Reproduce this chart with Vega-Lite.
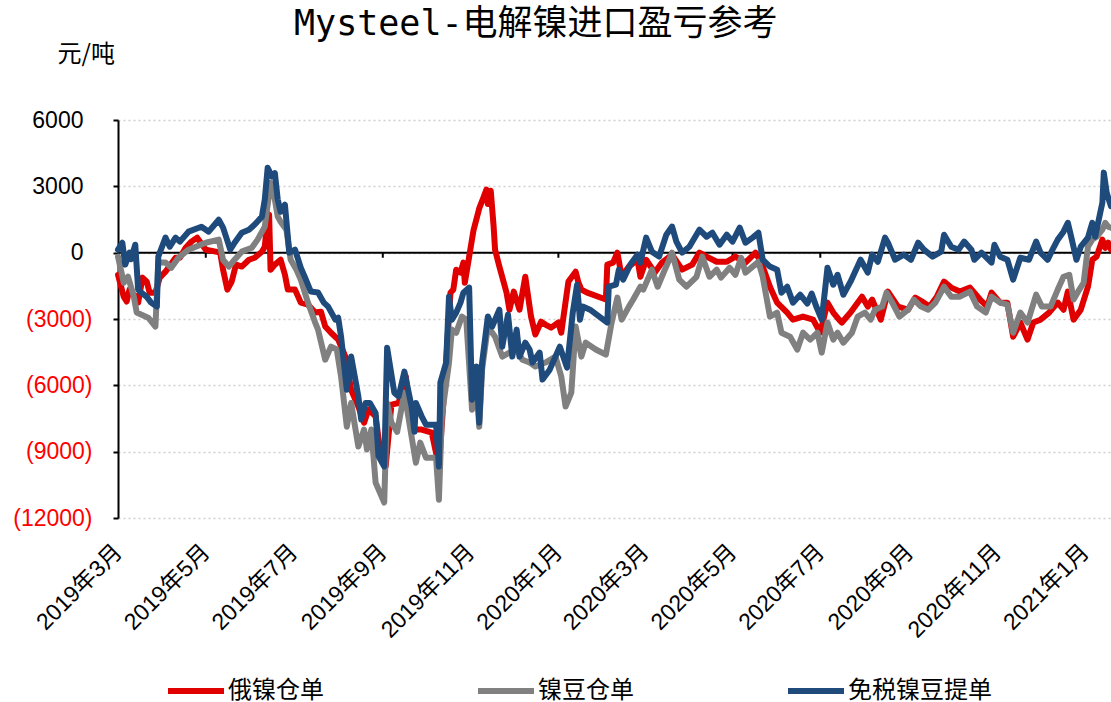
{
  "$schema": "https://vega.github.io/schema/vega-lite/v6.json",
  "width": 993,
  "height": 398,
  "autosize": {"type": "none"},
  "padding": {"left": 118, "top": 120, "right": 0, "bottom": 184},
  "background": "white",
  "config": {"view": {"stroke": null}, "font": "Liberation Sans, Noto Sans CJK SC"},
  "title": {
    "text": "Mysteel-电解镍进口盈亏参考",
    "font": "DejaVu Sans Mono, Noto Sans CJK SC",
    "fontSize": 35,
    "fontWeight": "normal",
    "color": "#000000",
    "anchor": "start",
    "frame": "group",
    "dx": 176,
    "baseline": "top",
    "offset": 0
  },
  "layer": [
    {
      "data": {"values": [{"zero": 0}]},
      "mark": {"type": "rule", "color": "#000000", "strokeWidth": 2},
      "encoding": {"y": {"field": "zero", "type": "quantitative"}}
    },
    {
      "data": {"values": [{"date": "2019-05-01"}, {"date": "2019-09-01"}, {"date": "2020-01-01"}, {"date": "2020-05-01"}, {"date": "2020-07-01"}, {"date": "2021-01-01"}]},
      "mark": {"type": "rule", "color": "#000000", "strokeWidth": 2},
      "encoding": {
        "x": {"field": "date", "type": "temporal"},
        "y": {"datum": 0, "type": "quantitative"},
        "y2": {"datum": -230}
      }
    },
    {
      "data": {"values": [
        {"series": "俄镍仓单", "date": "2019-03-01", "value": -1000},
        {"series": "俄镍仓单", "date": "2019-03-05", "value": -1990},
        {"series": "俄镍仓单", "date": "2019-03-07", "value": -2210},
        {"series": "俄镍仓单", "date": "2019-03-09", "value": -1670},
        {"series": "俄镍仓单", "date": "2019-03-13", "value": -1990},
        {"series": "俄镍仓单", "date": "2019-03-15", "value": -2260},
        {"series": "俄镍仓单", "date": "2019-03-18", "value": -1130},
        {"series": "俄镍仓单", "date": "2019-03-21", "value": -1310},
        {"series": "俄镍仓单", "date": "2019-03-23", "value": -1810},
        {"series": "俄镍仓单", "date": "2019-03-27", "value": -1810},
        {"series": "俄镍仓单", "date": "2019-03-30", "value": -1130},
        {"series": "俄镍仓单", "date": "2019-04-03", "value": -860},
        {"series": "俄镍仓单", "date": "2019-04-10", "value": -230},
        {"series": "俄镍仓单", "date": "2019-04-13", "value": -230},
        {"series": "俄镍仓单", "date": "2019-04-17", "value": 220},
        {"series": "俄镍仓单", "date": "2019-04-21", "value": 500},
        {"series": "俄镍仓单", "date": "2019-04-25", "value": 680},
        {"series": "俄镍仓单", "date": "2019-05-01", "value": 135},
        {"series": "俄镍仓单", "date": "2019-05-08", "value": 45},
        {"series": "俄镍仓单", "date": "2019-05-11", "value": 0},
        {"series": "俄镍仓单", "date": "2019-05-13", "value": -770},
        {"series": "俄镍仓单", "date": "2019-05-16", "value": -1670},
        {"series": "俄镍仓单", "date": "2019-05-19", "value": -1310},
        {"series": "俄镍仓单", "date": "2019-05-22", "value": -540},
        {"series": "俄镍仓单", "date": "2019-05-26", "value": -630},
        {"series": "俄镍仓单", "date": "2019-05-31", "value": -320},
        {"series": "俄镍仓单", "date": "2019-06-04", "value": -230},
        {"series": "俄镍仓单", "date": "2019-06-09", "value": 45},
        {"series": "俄镍仓单", "date": "2019-06-11", "value": 270},
        {"series": "俄镍仓单", "date": "2019-06-13", "value": 1630},
        {"series": "俄镍仓单", "date": "2019-06-14", "value": 1720},
        {"series": "俄镍仓单", "date": "2019-06-15", "value": -770},
        {"series": "俄镍仓单", "date": "2019-06-18", "value": -540},
        {"series": "俄镍仓单", "date": "2019-06-22", "value": -320},
        {"series": "俄镍仓单", "date": "2019-06-25", "value": -1000},
        {"series": "俄镍仓单", "date": "2019-06-27", "value": -1670},
        {"series": "俄镍仓单", "date": "2019-07-02", "value": -1670},
        {"series": "俄镍仓单", "date": "2019-07-06", "value": -2260},
        {"series": "俄镍仓单", "date": "2019-07-11", "value": -2350},
        {"series": "俄镍仓单", "date": "2019-07-16", "value": -2710},
        {"series": "俄镍仓单", "date": "2019-07-20", "value": -2670},
        {"series": "俄镍仓单", "date": "2019-07-23", "value": -3340},
        {"series": "俄镍仓单", "date": "2019-07-27", "value": -3620},
        {"series": "俄镍仓单", "date": "2019-08-01", "value": -3930},
        {"series": "俄镍仓单", "date": "2019-08-06", "value": -4700},
        {"series": "俄镍仓单", "date": "2019-08-10", "value": -6200},
        {"series": "俄镍仓单", "date": "2019-08-15", "value": -6960},
        {"series": "俄镍仓单", "date": "2019-08-19", "value": -7690},
        {"series": "俄镍仓单", "date": "2019-08-22", "value": -7100},
        {"series": "俄镍仓单", "date": "2019-08-27", "value": -7400},
        {"series": "俄镍仓单", "date": "2019-08-31", "value": -9360},
        {"series": "俄镍仓单", "date": "2019-09-03", "value": -9670},
        {"series": "俄镍仓单", "date": "2019-09-07", "value": -6870},
        {"series": "俄镍仓单", "date": "2019-09-12", "value": -6800},
        {"series": "俄镍仓单", "date": "2019-09-17", "value": -5600},
        {"series": "俄镍仓单", "date": "2019-09-21", "value": -8000},
        {"series": "俄镍仓单", "date": "2019-09-28", "value": -8000},
        {"series": "俄镍仓单", "date": "2019-10-05", "value": -8140},
        {"series": "俄镍仓单", "date": "2019-10-10", "value": -9670},
        {"series": "俄镍仓单", "date": "2019-10-15", "value": -4970},
        {"series": "俄镍仓单", "date": "2019-10-18", "value": -1810},
        {"series": "俄镍仓单", "date": "2019-10-20", "value": -1670},
        {"series": "俄镍仓单", "date": "2019-10-22", "value": -770},
        {"series": "俄镍仓单", "date": "2019-10-25", "value": -900},
        {"series": "俄镍仓单", "date": "2019-10-27", "value": -450},
        {"series": "俄镍仓单", "date": "2019-10-28", "value": -1360},
        {"series": "俄镍仓单", "date": "2019-10-31", "value": -180},
        {"series": "俄镍仓单", "date": "2019-11-03", "value": 1000},
        {"series": "俄镍仓单", "date": "2019-11-07", "value": 2000},
        {"series": "俄镍仓单", "date": "2019-11-10", "value": 2500},
        {"series": "俄镍仓单", "date": "2019-11-12", "value": 2850},
        {"series": "俄镍仓单", "date": "2019-11-13", "value": 2200},
        {"series": "俄镍仓单", "date": "2019-11-15", "value": 2800},
        {"series": "俄镍仓单", "date": "2019-11-17", "value": 1200},
        {"series": "俄镍仓单", "date": "2019-11-18", "value": 135},
        {"series": "俄镍仓单", "date": "2019-11-21", "value": -630},
        {"series": "俄镍仓单", "date": "2019-11-26", "value": -1810},
        {"series": "俄镍仓单", "date": "2019-11-28", "value": -2580},
        {"series": "俄镍仓单", "date": "2019-12-01", "value": -1760},
        {"series": "俄镍仓单", "date": "2019-12-05", "value": -2580},
        {"series": "俄镍仓单", "date": "2019-12-09", "value": -1090},
        {"series": "俄镍仓单", "date": "2019-12-13", "value": -2890},
        {"series": "俄镍仓单", "date": "2019-12-16", "value": -3700},
        {"series": "俄镍仓单", "date": "2019-12-20", "value": -3120},
        {"series": "俄镍仓单", "date": "2019-12-23", "value": -3250},
        {"series": "俄镍仓单", "date": "2019-12-27", "value": -3390},
        {"series": "俄镍仓单", "date": "2020-01-01", "value": -3160},
        {"series": "俄镍仓单", "date": "2020-01-03", "value": -3620},
        {"series": "俄镍仓单", "date": "2020-01-08", "value": -1300},
        {"series": "俄镍仓单", "date": "2020-01-13", "value": -860},
        {"series": "俄镍仓单", "date": "2020-01-15", "value": -1360},
        {"series": "俄镍仓单", "date": "2020-01-17", "value": -1670},
        {"series": "俄镍仓单", "date": "2020-01-21", "value": -1810},
        {"series": "俄镍仓单", "date": "2020-02-03", "value": -2120},
        {"series": "俄镍仓单", "date": "2020-02-04", "value": -540},
        {"series": "俄镍仓单", "date": "2020-02-08", "value": -450},
        {"series": "俄镍仓单", "date": "2020-02-11", "value": 0},
        {"series": "俄镍仓单", "date": "2020-02-14", "value": -1090},
        {"series": "俄镍仓单", "date": "2020-02-19", "value": -630},
        {"series": "俄镍仓单", "date": "2020-02-25", "value": -320},
        {"series": "俄镍仓单", "date": "2020-02-27", "value": -1090},
        {"series": "俄镍仓单", "date": "2020-03-02", "value": -320},
        {"series": "俄镍仓单", "date": "2020-03-08", "value": -900},
        {"series": "俄镍仓单", "date": "2020-03-13", "value": -450},
        {"series": "俄镍仓单", "date": "2020-03-20", "value": -90},
        {"series": "俄镍仓单", "date": "2020-03-27", "value": -770},
        {"series": "俄镍仓单", "date": "2020-04-03", "value": -540},
        {"series": "俄镍仓单", "date": "2020-04-08", "value": 0},
        {"series": "俄镍仓单", "date": "2020-04-13", "value": -180},
        {"series": "俄镍仓单", "date": "2020-04-20", "value": -410},
        {"series": "俄镍仓单", "date": "2020-04-27", "value": -410},
        {"series": "俄镍仓单", "date": "2020-05-03", "value": -180},
        {"series": "俄镍仓单", "date": "2020-05-10", "value": -450},
        {"series": "俄镍仓单", "date": "2020-05-17", "value": 0},
        {"series": "俄镍仓单", "date": "2020-05-21", "value": -450},
        {"series": "俄镍仓单", "date": "2020-05-27", "value": -1540},
        {"series": "俄镍仓单", "date": "2020-06-01", "value": -2260},
        {"series": "俄镍仓单", "date": "2020-06-08", "value": -2710},
        {"series": "俄镍仓单", "date": "2020-06-12", "value": -3030},
        {"series": "俄镍仓单", "date": "2020-06-19", "value": -2890},
        {"series": "俄镍仓单", "date": "2020-06-26", "value": -3030},
        {"series": "俄镍仓单", "date": "2020-07-01", "value": -3620},
        {"series": "俄镍仓单", "date": "2020-07-06", "value": -2260},
        {"series": "俄镍仓单", "date": "2020-07-10", "value": -2710},
        {"series": "俄镍仓单", "date": "2020-07-14", "value": -3030},
        {"series": "俄镍仓单", "date": "2020-07-16", "value": -3160},
        {"series": "俄镍仓单", "date": "2020-07-22", "value": -2710},
        {"series": "俄镍仓单", "date": "2020-07-30", "value": -1990},
        {"series": "俄镍仓单", "date": "2020-08-03", "value": -2440},
        {"series": "俄镍仓单", "date": "2020-08-06", "value": -2120},
        {"series": "俄镍仓单", "date": "2020-08-12", "value": -3030},
        {"series": "俄镍仓单", "date": "2020-08-17", "value": -1760},
        {"series": "俄镍仓单", "date": "2020-08-24", "value": -2440},
        {"series": "俄镍仓单", "date": "2020-08-31", "value": -2580},
        {"series": "俄镍仓单", "date": "2020-09-05", "value": -2030},
        {"series": "俄镍仓单", "date": "2020-09-11", "value": -2260},
        {"series": "俄镍仓单", "date": "2020-09-15", "value": -2440},
        {"series": "俄镍仓单", "date": "2020-09-20", "value": -1990},
        {"series": "俄镍仓单", "date": "2020-09-25", "value": -1310},
        {"series": "俄镍仓单", "date": "2020-09-30", "value": -1580},
        {"series": "俄镍仓单", "date": "2020-10-06", "value": -1760},
        {"series": "俄镍仓单", "date": "2020-10-13", "value": -1580},
        {"series": "俄镍仓单", "date": "2020-10-20", "value": -2120},
        {"series": "俄镍仓单", "date": "2020-10-25", "value": -2440},
        {"series": "俄镍仓单", "date": "2020-10-28", "value": -1810},
        {"series": "俄镍仓单", "date": "2020-11-03", "value": -2260},
        {"series": "俄镍仓单", "date": "2020-11-08", "value": -2260},
        {"series": "俄镍仓单", "date": "2020-11-12", "value": -3800},
        {"series": "俄镍仓单", "date": "2020-11-17", "value": -3160},
        {"series": "俄镍仓单", "date": "2020-11-22", "value": -3930},
        {"series": "俄镍仓单", "date": "2020-11-26", "value": -3160},
        {"series": "俄镍仓单", "date": "2020-12-01", "value": -3030},
        {"series": "俄镍仓单", "date": "2020-12-07", "value": -2710},
        {"series": "俄镍仓单", "date": "2020-12-13", "value": -2260},
        {"series": "俄镍仓单", "date": "2020-12-17", "value": -2580},
        {"series": "俄镍仓单", "date": "2020-12-20", "value": -1760},
        {"series": "俄镍仓单", "date": "2020-12-24", "value": -3030},
        {"series": "俄镍仓单", "date": "2020-12-29", "value": -2580},
        {"series": "俄镍仓单", "date": "2021-01-03", "value": -1540},
        {"series": "俄镍仓单", "date": "2021-01-06", "value": -320},
        {"series": "俄镍仓单", "date": "2021-01-09", "value": -180},
        {"series": "俄镍仓单", "date": "2021-01-13", "value": 590},
        {"series": "俄镍仓单", "date": "2021-01-15", "value": 220},
        {"series": "俄镍仓单", "date": "2021-01-17", "value": 450},
        {"series": "俄镍仓单", "date": "2021-01-19", "value": 135},

        {"series": "镍豆仓单", "date": "2019-03-01", "value": -180},
        {"series": "镍豆仓单", "date": "2019-03-05", "value": -1360},
        {"series": "镍豆仓单", "date": "2019-03-08", "value": -1090},
        {"series": "镍豆仓单", "date": "2019-03-12", "value": -1990},
        {"series": "镍豆仓单", "date": "2019-03-14", "value": -2710},
        {"series": "镍豆仓单", "date": "2019-03-17", "value": -2800},
        {"series": "镍豆仓单", "date": "2019-03-22", "value": -2940},
        {"series": "镍豆仓单", "date": "2019-03-27", "value": -3340},
        {"series": "镍豆仓单", "date": "2019-03-29", "value": -450},
        {"series": "镍豆仓单", "date": "2019-04-03", "value": -450},
        {"series": "镍豆仓单", "date": "2019-04-07", "value": -680},
        {"series": "镍豆仓单", "date": "2019-04-12", "value": -230},
        {"series": "镍豆仓单", "date": "2019-04-19", "value": 135},
        {"series": "镍豆仓单", "date": "2019-04-24", "value": 270},
        {"series": "镍豆仓单", "date": "2019-05-01", "value": 450},
        {"series": "镍豆仓单", "date": "2019-05-10", "value": 590},
        {"series": "镍豆仓单", "date": "2019-05-13", "value": -320},
        {"series": "镍豆仓单", "date": "2019-05-17", "value": -630},
        {"series": "镍豆仓单", "date": "2019-05-21", "value": -320},
        {"series": "镍豆仓单", "date": "2019-05-26", "value": 45},
        {"series": "镍豆仓单", "date": "2019-06-02", "value": 220},
        {"series": "镍豆仓单", "date": "2019-06-06", "value": 590},
        {"series": "镍豆仓单", "date": "2019-06-11", "value": 1180},
        {"series": "镍豆仓单", "date": "2019-06-15", "value": 3160},
        {"series": "镍豆仓单", "date": "2019-06-18", "value": 2400},
        {"series": "镍豆仓单", "date": "2019-06-20", "value": 1630},
        {"series": "镍豆仓单", "date": "2019-06-22", "value": 1400},
        {"series": "镍豆仓单", "date": "2019-06-26", "value": 1040},
        {"series": "镍豆仓单", "date": "2019-06-29", "value": -320},
        {"series": "镍豆仓单", "date": "2019-07-03", "value": -770},
        {"series": "镍豆仓单", "date": "2019-07-06", "value": -1220},
        {"series": "镍豆仓单", "date": "2019-07-11", "value": -2260},
        {"series": "镍豆仓单", "date": "2019-07-16", "value": -3160},
        {"series": "镍豆仓单", "date": "2019-07-18", "value": -3480},
        {"series": "镍豆仓单", "date": "2019-07-23", "value": -4840},
        {"series": "镍豆仓单", "date": "2019-07-27", "value": -4250},
        {"series": "镍豆仓单", "date": "2019-07-31", "value": -4380},
        {"series": "镍豆仓单", "date": "2019-08-03", "value": -5600},
        {"series": "镍豆仓单", "date": "2019-08-07", "value": -7870},
        {"series": "镍豆仓单", "date": "2019-08-10", "value": -6800},
        {"series": "镍豆仓单", "date": "2019-08-15", "value": -8770},
        {"series": "镍豆仓单", "date": "2019-08-19", "value": -8000},
        {"series": "镍豆仓单", "date": "2019-08-21", "value": -8900},
        {"series": "镍豆仓单", "date": "2019-08-24", "value": -8000},
        {"series": "镍豆仓单", "date": "2019-08-27", "value": -10400},
        {"series": "镍豆仓单", "date": "2019-09-02", "value": -11300},
        {"series": "镍豆仓单", "date": "2019-09-04", "value": -6800},
        {"series": "镍豆仓单", "date": "2019-09-07", "value": -7690},
        {"series": "镍豆仓单", "date": "2019-09-11", "value": -8100},
        {"series": "镍豆仓单", "date": "2019-09-16", "value": -6330},
        {"series": "镍豆仓单", "date": "2019-09-21", "value": -8320},
        {"series": "镍豆仓单", "date": "2019-09-24", "value": -9500},
        {"series": "镍豆仓单", "date": "2019-09-27", "value": -8590},
        {"series": "镍豆仓单", "date": "2019-10-01", "value": -9270},
        {"series": "镍豆仓单", "date": "2019-10-08", "value": -9270},
        {"series": "镍豆仓单", "date": "2019-10-10", "value": -11170},
        {"series": "镍豆仓单", "date": "2019-10-12", "value": -7400},
        {"series": "镍豆仓单", "date": "2019-10-17", "value": -4970},
        {"series": "镍豆仓单", "date": "2019-10-19", "value": -3480},
        {"series": "镍豆仓单", "date": "2019-10-22", "value": -3620},
        {"series": "镍豆仓单", "date": "2019-10-26", "value": -2890},
        {"series": "镍豆仓单", "date": "2019-10-29", "value": -3030},
        {"series": "镍豆仓单", "date": "2019-11-02", "value": -7100},
        {"series": "镍豆仓单", "date": "2019-11-05", "value": -5880},
        {"series": "镍豆仓单", "date": "2019-11-07", "value": -7870},
        {"series": "镍豆仓单", "date": "2019-11-09", "value": -5290},
        {"series": "镍豆仓单", "date": "2019-11-13", "value": -3340},
        {"series": "镍豆仓单", "date": "2019-11-18", "value": -3800},
        {"series": "镍豆仓单", "date": "2019-11-23", "value": -4700},
        {"series": "镍豆仓单", "date": "2019-11-28", "value": -4520},
        {"series": "镍豆仓单", "date": "2019-12-03", "value": -4380},
        {"series": "镍豆仓单", "date": "2019-12-07", "value": -4840},
        {"series": "镍豆仓单", "date": "2019-12-12", "value": -4970},
        {"series": "镍豆仓单", "date": "2019-12-16", "value": -5150},
        {"series": "镍豆仓单", "date": "2019-12-23", "value": -4970},
        {"series": "镍豆仓单", "date": "2019-12-30", "value": -4700},
        {"series": "镍豆仓单", "date": "2020-01-03", "value": -5600},
        {"series": "镍豆仓单", "date": "2020-01-06", "value": -6960},
        {"series": "镍豆仓单", "date": "2020-01-10", "value": -6330},
        {"series": "镍豆仓单", "date": "2020-01-13", "value": -3340},
        {"series": "镍豆仓单", "date": "2020-01-17", "value": -4700},
        {"series": "镍豆仓单", "date": "2020-01-20", "value": -4070},
        {"series": "镍豆仓单", "date": "2020-01-27", "value": -4380},
        {"series": "镍豆仓单", "date": "2020-02-03", "value": -4610},
        {"series": "镍豆仓单", "date": "2020-02-07", "value": -3160},
        {"series": "镍豆仓单", "date": "2020-02-11", "value": -2030},
        {"series": "镍豆仓单", "date": "2020-02-14", "value": -3030},
        {"series": "镍豆仓单", "date": "2020-02-19", "value": -2440},
        {"series": "镍豆仓单", "date": "2020-02-22", "value": -2120},
        {"series": "镍豆仓单", "date": "2020-02-27", "value": -1540},
        {"series": "镍豆仓单", "date": "2020-02-29", "value": -1670},
        {"series": "镍豆仓单", "date": "2020-03-06", "value": -770},
        {"series": "镍豆仓单", "date": "2020-03-10", "value": -1540},
        {"series": "镍豆仓单", "date": "2020-03-15", "value": -770},
        {"series": "镍豆仓单", "date": "2020-03-18", "value": -320},
        {"series": "镍豆仓单", "date": "2020-03-20", "value": 0},
        {"series": "镍豆仓单", "date": "2020-03-25", "value": -1220},
        {"series": "镍豆仓单", "date": "2020-03-30", "value": -1540},
        {"series": "镍豆仓单", "date": "2020-04-06", "value": -1090},
        {"series": "镍豆仓单", "date": "2020-04-10", "value": -180},
        {"series": "镍豆仓单", "date": "2020-04-15", "value": -1090},
        {"series": "镍豆仓单", "date": "2020-04-20", "value": -770},
        {"series": "镍豆仓单", "date": "2020-04-23", "value": -1130},
        {"series": "镍豆仓单", "date": "2020-04-29", "value": -680},
        {"series": "镍豆仓单", "date": "2020-05-03", "value": -1000},
        {"series": "镍豆仓单", "date": "2020-05-07", "value": -230},
        {"series": "镍豆仓单", "date": "2020-05-10", "value": -900},
        {"series": "镍豆仓单", "date": "2020-05-15", "value": -630},
        {"series": "镍豆仓单", "date": "2020-05-19", "value": -410},
        {"series": "镍豆仓单", "date": "2020-05-22", "value": -1090},
        {"series": "镍豆仓单", "date": "2020-05-27", "value": -2890},
        {"series": "镍豆仓单", "date": "2020-06-01", "value": -2710},
        {"series": "镍豆仓单", "date": "2020-06-04", "value": -3620},
        {"series": "镍豆仓单", "date": "2020-06-10", "value": -3800},
        {"series": "镍豆仓单", "date": "2020-06-15", "value": -4380},
        {"series": "镍豆仓单", "date": "2020-06-19", "value": -3620},
        {"series": "镍豆仓单", "date": "2020-06-24", "value": -3930},
        {"series": "镍豆仓单", "date": "2020-06-29", "value": -3620},
        {"series": "镍豆仓单", "date": "2020-07-02", "value": -4520},
        {"series": "镍豆仓单", "date": "2020-07-06", "value": -3160},
        {"series": "镍豆仓单", "date": "2020-07-10", "value": -3930},
        {"series": "镍豆仓单", "date": "2020-07-13", "value": -3620},
        {"series": "镍豆仓单", "date": "2020-07-17", "value": -4070},
        {"series": "镍豆仓单", "date": "2020-07-23", "value": -3620},
        {"series": "镍豆仓单", "date": "2020-07-27", "value": -2890},
        {"series": "镍豆仓单", "date": "2020-08-01", "value": -2710},
        {"series": "镍豆仓单", "date": "2020-08-05", "value": -3030},
        {"series": "镍豆仓单", "date": "2020-08-08", "value": -2580},
        {"series": "镍豆仓单", "date": "2020-08-13", "value": -2440},
        {"series": "镍豆仓单", "date": "2020-08-16", "value": -1810},
        {"series": "镍豆仓单", "date": "2020-08-20", "value": -2260},
        {"series": "镍豆仓单", "date": "2020-08-25", "value": -2890},
        {"series": "镍豆仓单", "date": "2020-08-31", "value": -2580},
        {"series": "镍豆仓单", "date": "2020-09-04", "value": -2120},
        {"series": "镍豆仓单", "date": "2020-09-09", "value": -2440},
        {"series": "镍豆仓单", "date": "2020-09-14", "value": -2580},
        {"series": "镍豆仓单", "date": "2020-09-19", "value": -2260},
        {"series": "镍豆仓单", "date": "2020-09-25", "value": -1540},
        {"series": "镍豆仓单", "date": "2020-09-30", "value": -1990},
        {"series": "镍豆仓单", "date": "2020-10-06", "value": -1990},
        {"series": "镍豆仓单", "date": "2020-10-13", "value": -1760},
        {"series": "镍豆仓单", "date": "2020-10-18", "value": -2440},
        {"series": "镍豆仓单", "date": "2020-10-24", "value": -2710},
        {"series": "镍豆仓单", "date": "2020-10-28", "value": -1990},
        {"series": "镍豆仓单", "date": "2020-11-03", "value": -2260},
        {"series": "镍豆仓单", "date": "2020-11-08", "value": -2350},
        {"series": "镍豆仓单", "date": "2020-11-12", "value": -3620},
        {"series": "镍豆仓单", "date": "2020-11-17", "value": -2710},
        {"series": "镍豆仓单", "date": "2020-11-22", "value": -3160},
        {"series": "镍豆仓单", "date": "2020-11-28", "value": -1900},
        {"series": "镍豆仓单", "date": "2020-12-02", "value": -2440},
        {"series": "镍豆仓单", "date": "2020-12-08", "value": -2440},
        {"series": "镍豆仓单", "date": "2020-12-13", "value": -1670},
        {"series": "镍豆仓单", "date": "2020-12-17", "value": -1090},
        {"series": "镍豆仓单", "date": "2020-12-21", "value": -1000},
        {"series": "镍豆仓单", "date": "2020-12-24", "value": -2120},
        {"series": "镍豆仓单", "date": "2020-12-28", "value": -1670},
        {"series": "镍豆仓单", "date": "2020-12-31", "value": -1360},
        {"series": "镍豆仓单", "date": "2021-01-03", "value": 270},
        {"series": "镍豆仓单", "date": "2021-01-06", "value": 590},
        {"series": "镍豆仓单", "date": "2021-01-09", "value": 720},
        {"series": "镍豆仓单", "date": "2021-01-13", "value": 1040},
        {"series": "镍豆仓单", "date": "2021-01-15", "value": 1350},
        {"series": "镍豆仓单", "date": "2021-01-17", "value": 1180},
        {"series": "镍豆仓单", "date": "2021-01-19", "value": 1130},

        {"series": "免税镍豆提单", "date": "2019-03-01", "value": 135},
        {"series": "免税镍豆提单", "date": "2019-03-04", "value": 450},
        {"series": "免税镍豆提单", "date": "2019-03-06", "value": -540},
        {"series": "免税镍豆提单", "date": "2019-03-09", "value": 0},
        {"series": "免税镍豆提单", "date": "2019-03-10", "value": -300},
        {"series": "免税镍豆提单", "date": "2019-03-13", "value": 360},
        {"series": "免税镍豆提单", "date": "2019-03-15", "value": -1670},
        {"series": "免税镍豆提单", "date": "2019-03-17", "value": -1800},
        {"series": "免税镍豆提单", "date": "2019-03-21", "value": -2000},
        {"series": "免税镍豆提单", "date": "2019-03-24", "value": -2260},
        {"series": "免税镍豆提单", "date": "2019-03-28", "value": -2440},
        {"series": "免税镍豆提单", "date": "2019-03-29", "value": -180},
        {"series": "免税镍豆提单", "date": "2019-04-03", "value": 680},
        {"series": "免税镍豆提单", "date": "2019-04-06", "value": 270},
        {"series": "免税镍豆提单", "date": "2019-04-10", "value": 680},
        {"series": "免税镍豆提单", "date": "2019-04-13", "value": 500},
        {"series": "免税镍豆提单", "date": "2019-04-19", "value": 950},
        {"series": "免税镍豆提单", "date": "2019-04-28", "value": 1170},
        {"series": "免税镍豆提单", "date": "2019-05-03", "value": 950},
        {"series": "免税镍豆提单", "date": "2019-05-10", "value": 1490},
        {"series": "免税镍豆提单", "date": "2019-05-13", "value": 1130},
        {"series": "免税镍豆提单", "date": "2019-05-18", "value": 135},
        {"series": "免税镍豆提单", "date": "2019-05-21", "value": 450},
        {"series": "免税镍豆提单", "date": "2019-05-26", "value": 900},
        {"series": "免税镍豆提单", "date": "2019-05-31", "value": 1040},
        {"series": "免税镍豆提单", "date": "2019-06-04", "value": 1270},
        {"series": "免税镍豆提单", "date": "2019-06-09", "value": 1630},
        {"series": "免税镍豆提单", "date": "2019-06-11", "value": 2400},
        {"series": "免税镍豆提单", "date": "2019-06-13", "value": 3840},
        {"series": "免税镍豆提单", "date": "2019-06-16", "value": 3440},
        {"series": "免税镍豆提单", "date": "2019-06-18", "value": 3600},
        {"series": "免税镍豆提单", "date": "2019-06-20", "value": 2400},
        {"series": "免税镍豆提单", "date": "2019-06-22", "value": 1850},
        {"series": "免税镍豆提单", "date": "2019-06-25", "value": 2170},
        {"series": "免税镍豆提单", "date": "2019-06-28", "value": 0},
        {"series": "免税镍豆提单", "date": "2019-07-02", "value": 135},
        {"series": "免税镍豆提单", "date": "2019-07-06", "value": -680},
        {"series": "免税镍豆提单", "date": "2019-07-09", "value": -1130},
        {"series": "免税镍豆提单", "date": "2019-07-13", "value": -1760},
        {"series": "免税镍豆提单", "date": "2019-07-18", "value": -1800},
        {"series": "免税镍豆提单", "date": "2019-07-22", "value": -2260},
        {"series": "免税镍豆提单", "date": "2019-07-25", "value": -2440},
        {"series": "免税镍豆提单", "date": "2019-07-30", "value": -3030},
        {"series": "免税镍豆提单", "date": "2019-08-01", "value": -2940},
        {"series": "免税镍豆提单", "date": "2019-08-03", "value": -3800},
        {"series": "免税镍豆提单", "date": "2019-08-07", "value": -6200},
        {"series": "免税镍豆提单", "date": "2019-08-10", "value": -4700},
        {"series": "免税镍豆提单", "date": "2019-08-15", "value": -6500},
        {"series": "免税镍豆提单", "date": "2019-08-17", "value": -7550},
        {"series": "免税镍豆提单", "date": "2019-08-20", "value": -6800},
        {"series": "免税镍豆提单", "date": "2019-08-23", "value": -6800},
        {"series": "免税镍豆提单", "date": "2019-08-27", "value": -7250},
        {"series": "免税镍豆提单", "date": "2019-08-29", "value": -9200},
        {"series": "免税镍豆提单", "date": "2019-09-02", "value": -9670},
        {"series": "免税镍豆提单", "date": "2019-09-04", "value": -4300},
        {"series": "免税镍豆提单", "date": "2019-09-09", "value": -6330},
        {"series": "免税镍豆提单", "date": "2019-09-12", "value": -6500},
        {"series": "免税镍豆提单", "date": "2019-09-16", "value": -5380},
        {"series": "免税镍豆提单", "date": "2019-09-21", "value": -6960},
        {"series": "免税镍豆提单", "date": "2019-09-23", "value": -8100},
        {"series": "免税镍豆提单", "date": "2019-09-24", "value": -6800},
        {"series": "免税镍豆提单", "date": "2019-09-28", "value": -7400},
        {"series": "免税镍豆提单", "date": "2019-10-01", "value": -7780},
        {"series": "免税镍豆提单", "date": "2019-10-08", "value": -7780},
        {"series": "免税镍豆提单", "date": "2019-10-10", "value": -9670},
        {"series": "免税镍豆提单", "date": "2019-10-11", "value": -5880},
        {"series": "免税镍豆提单", "date": "2019-10-15", "value": -4970},
        {"series": "免税镍豆提单", "date": "2019-10-17", "value": -1990},
        {"series": "免税镍豆提单", "date": "2019-10-19", "value": -3030},
        {"series": "免税镍豆提单", "date": "2019-10-22", "value": -2710},
        {"series": "免税镍豆提单", "date": "2019-10-25", "value": -2260},
        {"series": "免税镍豆提单", "date": "2019-10-27", "value": -1810},
        {"series": "免税镍豆提单", "date": "2019-10-31", "value": -1580},
        {"series": "免税镍豆提单", "date": "2019-11-02", "value": -6650},
        {"series": "免税镍豆提单", "date": "2019-11-05", "value": -5150},
        {"series": "免税镍豆提单", "date": "2019-11-07", "value": -7690},
        {"series": "免税镍豆提单", "date": "2019-11-09", "value": -4970},
        {"series": "免税镍豆提单", "date": "2019-11-13", "value": -2890},
        {"series": "免税镍豆提单", "date": "2019-11-16", "value": -3340},
        {"series": "免税镍豆提单", "date": "2019-11-21", "value": -2580},
        {"series": "免税镍豆提单", "date": "2019-11-23", "value": -4250},
        {"series": "免税镍豆提单", "date": "2019-11-27", "value": -2800},
        {"series": "免税镍豆提单", "date": "2019-11-30", "value": -4700},
        {"series": "免税镍豆提单", "date": "2019-12-03", "value": -3480},
        {"series": "免税镍豆提单", "date": "2019-12-05", "value": -4700},
        {"series": "免税镍豆提单", "date": "2019-12-09", "value": -4070},
        {"series": "免税镍豆提单", "date": "2019-12-12", "value": -4380},
        {"series": "免税镍豆提单", "date": "2019-12-14", "value": -4970},
        {"series": "免税镍豆提单", "date": "2019-12-19", "value": -4520},
        {"series": "免税镍豆提单", "date": "2019-12-21", "value": -5740},
        {"series": "免税镍豆提单", "date": "2019-12-26", "value": -5290},
        {"series": "免税镍豆提单", "date": "2020-01-02", "value": -4250},
        {"series": "免税镍豆提单", "date": "2020-01-07", "value": -5200},
        {"series": "免税镍豆提单", "date": "2020-01-11", "value": -2710},
        {"series": "免税镍豆提单", "date": "2020-01-14", "value": -1450},
        {"series": "免税镍豆提单", "date": "2020-01-16", "value": -3030},
        {"series": "免税镍豆提单", "date": "2020-01-18", "value": -2440},
        {"series": "免税镍豆提单", "date": "2020-01-23", "value": -2580},
        {"series": "免税镍豆提单", "date": "2020-02-04", "value": -3160},
        {"series": "免税镍豆提单", "date": "2020-02-05", "value": -1540},
        {"series": "免税镍豆提单", "date": "2020-02-10", "value": -1450},
        {"series": "免税镍豆提单", "date": "2020-02-12", "value": -770},
        {"series": "免税镍豆提单", "date": "2020-02-15", "value": -1220},
        {"series": "免税镍豆提单", "date": "2020-02-20", "value": -540},
        {"series": "免税镍豆提单", "date": "2020-02-25", "value": -90},
        {"series": "免税镍豆提单", "date": "2020-02-27", "value": -450},
        {"series": "免税镍豆提单", "date": "2020-03-02", "value": 680},
        {"series": "免税镍豆提单", "date": "2020-03-06", "value": 45},
        {"series": "免税镍豆提单", "date": "2020-03-11", "value": -180},
        {"series": "免税镍豆提单", "date": "2020-03-16", "value": 810},
        {"series": "免税镍豆提单", "date": "2020-03-20", "value": 1180},
        {"series": "免税镍豆提单", "date": "2020-03-23", "value": 500},
        {"series": "免税镍豆提单", "date": "2020-03-27", "value": 0},
        {"series": "免税镍豆提单", "date": "2020-04-01", "value": 270},
        {"series": "免税镍豆提单", "date": "2020-04-08", "value": 1040},
        {"series": "免税镍豆提单", "date": "2020-04-13", "value": 720},
        {"series": "免税镍豆提单", "date": "2020-04-17", "value": 900},
        {"series": "免税镍豆提单", "date": "2020-04-22", "value": 360},
        {"series": "免税镍豆提单", "date": "2020-04-27", "value": 810},
        {"series": "免税镍豆提单", "date": "2020-05-01", "value": 500},
        {"series": "免税镍豆提单", "date": "2020-05-06", "value": 1130},
        {"series": "免税镍豆提单", "date": "2020-05-10", "value": 450},
        {"series": "免税镍豆提单", "date": "2020-05-15", "value": 680},
        {"series": "免税镍豆提单", "date": "2020-05-19", "value": 900},
        {"series": "免税镍豆提单", "date": "2020-05-22", "value": -320},
        {"series": "免税镍豆提单", "date": "2020-05-27", "value": -630},
        {"series": "免税镍豆提单", "date": "2020-06-01", "value": -770},
        {"series": "免税镍豆提单", "date": "2020-06-04", "value": -1810},
        {"series": "免税镍豆提单", "date": "2020-06-08", "value": -1540},
        {"series": "免税镍豆提单", "date": "2020-06-12", "value": -2260},
        {"series": "免税镍豆提单", "date": "2020-06-17", "value": -1900},
        {"series": "免税镍豆提单", "date": "2020-06-22", "value": -2300},
        {"series": "免税镍豆提单", "date": "2020-06-25", "value": -1850},
        {"series": "免税镍豆提单", "date": "2020-06-28", "value": -2400},
        {"series": "免税镍豆提单", "date": "2020-07-02", "value": -3030},
        {"series": "免税镍豆提单", "date": "2020-07-06", "value": -680},
        {"series": "免税镍豆提单", "date": "2020-07-10", "value": -1450},
        {"series": "免税镍豆提单", "date": "2020-07-13", "value": -1000},
        {"series": "免税镍豆提单", "date": "2020-07-17", "value": -1900},
        {"series": "免税镍豆提单", "date": "2020-07-22", "value": -1310},
        {"series": "免税镍豆提单", "date": "2020-07-29", "value": -320},
        {"series": "免税镍豆提单", "date": "2020-08-03", "value": -900},
        {"series": "免税镍豆提单", "date": "2020-08-06", "value": -90},
        {"series": "免税镍豆提单", "date": "2020-08-10", "value": -410},
        {"series": "免税镍豆提单", "date": "2020-08-15", "value": 680},
        {"series": "免税镍豆提单", "date": "2020-08-17", "value": 450},
        {"series": "免税镍豆提单", "date": "2020-08-22", "value": -320},
        {"series": "免税镍豆提单", "date": "2020-08-28", "value": -90},
        {"series": "免税镍豆提单", "date": "2020-09-02", "value": -320},
        {"series": "免税镍豆提单", "date": "2020-09-07", "value": 450},
        {"series": "免税镍豆提单", "date": "2020-09-11", "value": 135},
        {"series": "免税镍豆提单", "date": "2020-09-17", "value": -180},
        {"series": "免税镍豆提单", "date": "2020-09-23", "value": 45},
        {"series": "免税镍豆提单", "date": "2020-09-25", "value": 810},
        {"series": "免税镍豆提单", "date": "2020-09-30", "value": 270},
        {"series": "免税镍豆提单", "date": "2020-10-05", "value": 135},
        {"series": "免税镍豆提单", "date": "2020-10-09", "value": 500},
        {"series": "免税镍豆提单", "date": "2020-10-14", "value": 135},
        {"series": "免税镍豆提单", "date": "2020-10-16", "value": -320},
        {"series": "免税镍豆提单", "date": "2020-10-21", "value": 0},
        {"series": "免税镍豆提单", "date": "2020-10-28", "value": -450},
        {"series": "免税镍豆提单", "date": "2020-10-30", "value": 360},
        {"series": "免税镍豆提单", "date": "2020-11-03", "value": -180},
        {"series": "免税镍豆提单", "date": "2020-11-08", "value": -320},
        {"series": "免税镍豆提单", "date": "2020-11-12", "value": -1220},
        {"series": "免税镍豆提单", "date": "2020-11-17", "value": -230},
        {"series": "免税镍豆提单", "date": "2020-11-23", "value": -320},
        {"series": "免税镍豆提单", "date": "2020-11-28", "value": 500},
        {"series": "免税镍豆提单", "date": "2020-12-01", "value": 0},
        {"series": "免税镍豆提单", "date": "2020-12-06", "value": -320},
        {"series": "免税镍豆提单", "date": "2020-12-10", "value": 220},
        {"series": "免税镍豆提单", "date": "2020-12-13", "value": 590},
        {"series": "免税镍豆提单", "date": "2020-12-17", "value": 950},
        {"series": "免税镍豆提单", "date": "2020-12-20", "value": 1350},
        {"series": "免税镍豆提单", "date": "2020-12-22", "value": 810},
        {"series": "免税镍豆提单", "date": "2020-12-26", "value": -320},
        {"series": "免税镍豆提单", "date": "2020-12-29", "value": 270},
        {"series": "免税镍豆提单", "date": "2021-01-03", "value": 680},
        {"series": "免税镍豆提单", "date": "2021-01-06", "value": 1350},
        {"series": "免税镍豆提单", "date": "2021-01-08", "value": 720},
        {"series": "免税镍豆提单", "date": "2021-01-13", "value": 2260},
        {"series": "免税镍豆提单", "date": "2021-01-14", "value": 3620},
        {"series": "免税镍豆提单", "date": "2021-01-16", "value": 2710},
        {"series": "免税镍豆提单", "date": "2021-01-19", "value": 2100}
      ]},
      "mark": {"type": "line", "strokeWidth": 6, "strokeJoin": "round", "strokeCap": "round"},
      "encoding": {
        "x": {
          "field": "date",
          "type": "temporal",
          "scale": {"type": "utc", "domain": [{"year": 2019, "month": 3, "date": 1, "utc": true}, {"year": 2021, "month": 1, "date": 19, "utc": true}]},
          "axis": {
            "title": null,
            "domain": false,
            "ticks": false,
            "grid": false,
            "values": [
              {"year": 2019, "month": 3, "date": 1, "utc": true},
              {"year": 2019, "month": 5, "date": 1, "utc": true},
              {"year": 2019, "month": 7, "date": 1, "utc": true},
              {"year": 2019, "month": 9, "date": 1, "utc": true},
              {"year": 2019, "month": 11, "date": 1, "utc": true},
              {"year": 2020, "month": 1, "date": 1, "utc": true},
              {"year": 2020, "month": 3, "date": 1, "utc": true},
              {"year": 2020, "month": 5, "date": 1, "utc": true},
              {"year": 2020, "month": 7, "date": 1, "utc": true},
              {"year": 2020, "month": 9, "date": 1, "utc": true},
              {"year": 2020, "month": 11, "date": 1, "utc": true},
              {"year": 2021, "month": 1, "date": 1, "utc": true}
            ],
            "labelExpr": "utcFormat(datum.value, '%Y') + '年' + (utcmonth(datum.value) + 1) + '月'",
            "labelAngle": -45,
            "labelAlign": "right",
            "labelBaseline": "middle",
            "labelPadding": 30,
            "labelFontSize": 23,
            "labelFont": "Liberation Sans, Noto Sans CJK SC",
            "labelColor": "#000000",
            "labelFlush": false,
            "labelOverlap": false,
            "labelBound": false
          }
        },
        "y": {
          "field": "value",
          "type": "quantitative",
          "scale": {"domain": [-12000, 6000], "nice": false, "zero": false},
          "axis": {
            "values": [-12000, -9000, -6000, -3000, 0, 3000, 6000],
            "labelExpr": "datum.value < 0 ? '(' + (-datum.value) + ')' : '' + datum.value",
            "labelColor": {"condition": {"test": "datum.value < 0", "value": "#FF0000"}, "value": "#000000"},
            "labelPadding": {"condition": {"test": "datum.value < 0", "value": 21}, "value": 30},
            "labelFontSize": 23,
            "labelFont": "Liberation Sans, Noto Sans CJK SC",
            "domainColor": "#000000",
            "domainWidth": 2,
            "tickColor": "#000000",
            "tickWidth": 2,
            "tickSize": 5,
            "gridColor": "#D0D0D0",
            "gridDash": [2, 3],
            "gridWidth": 1.5,
            "title": "元/吨",
            "titleAngle": 0,
            "titleAlign": "left",
            "titleBaseline": "middle",
            "titleX": -61,
            "titleY": -66,
            "titleFont": "Noto Sans CJK SC",
            "titleFontSize": 24,
            "titleFontWeight": "normal",
            "titleColor": "#000000"
          }
        },
        "color": {
          "field": "series",
          "type": "nominal",
          "scale": {"domain": ["俄镍仓单", "镍豆仓单", "免税镍豆提单"], "range": ["#E00000", "#808080", "#1F4A7C"]},
          "legend": {
            "title": null,
            "orient": "none",
            "direction": "horizontal",
            "legendX": 47,
            "legendY": 540,
            "symbolType": "stroke",
            "symbolSize": 3136,
            "symbolStrokeWidth": 6,
            "labelFont": "Noto Sans CJK SC",
            "labelFontSize": 24,
            "labelColor": "#000000",
            "labelOffset": 1,
            "columnPadding": 142,
            "labelLimit": 300
          }
        }
      }
    }
  ]
}
